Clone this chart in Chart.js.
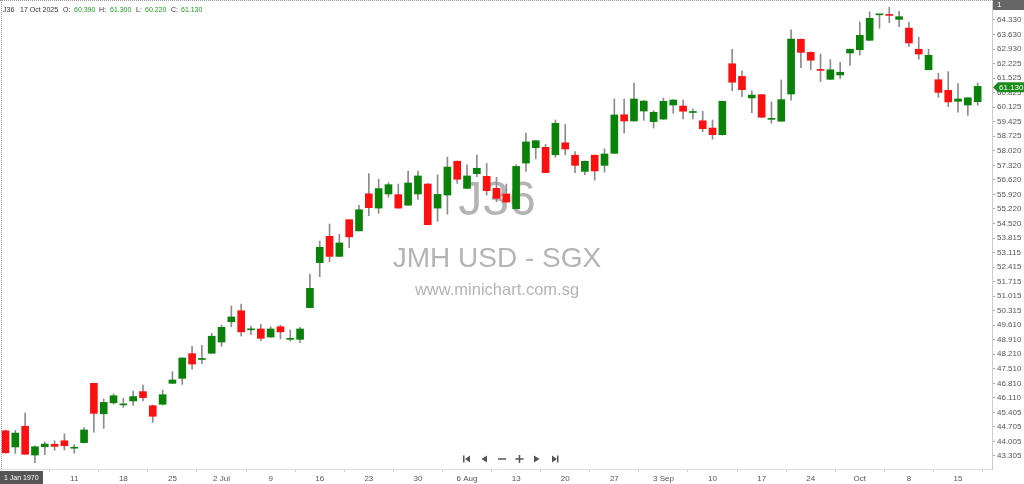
<!DOCTYPE html>
<html>
<head>
<meta charset="utf-8">
<script src="https://cdn.jsdelivr.net/npm/chart.js@4.4.0/dist/chart.umd.min.js"></script>
<style>
  html, body { margin: 0; padding: 0; background: #fff; overflow: hidden; }
  #wrap { width: 1024px; height: 484px; }
</style>
</head>
<body>
<div id="wrap"><canvas id="chart" width="1024" height="484"></canvas></div>
<script>
// daily OHLC, 2 Jun 2025 .. 17 Oct 2025 (one entry per trading day)
const opens = [
  44.52, 43.74, 44.74, 43.35, 43.75, 43.87, 44.04, 43.68, 43.95, 46.81,
  45.34, 45.87, 45.77, 45.96, 46.41, 45.73, 45.80, 46.81, 47.05, 48.24,
  47.96, 48.26, 48.80, 49.78, 50.31, 49.39, 49.43, 49.04, 49.54, 48.93,
  48.93, 50.46, 52.63, 53.90, 52.93, 54.70, 54.16, 55.95, 55.26, 55.94,
  55.91, 55.40, 55.94, 56.42, 55.26, 55.89, 57.52, 56.21, 56.92, 56.79,
  56.21, 55.94, 55.23, 57.43, 58.17, 58.19, 57.83, 58.41, 57.81, 57.03,
  57.81, 57.32, 57.90, 59.76, 59.46, 59.94, 59.43, 59.55, 60.23, 60.18,
  59.87, 59.47, 59.12, 58.80, 62.22, 61.61, 60.57, 60.73, 59.54, 59.45,
  60.76, 63.40, 62.77, 61.92, 61.47, 61.68, 62.74, 62.90, 63.35, 64.58,
  64.56, 64.36, 63.94, 62.92, 61.93, 61.45, 60.94, 60.41, 60.23, 60.39
];
const highs = [
  44.55, 44.54, 45.38, 43.79, 43.99, 44.04, 44.37, 43.85, 44.67, 46.82,
  46.05, 46.30, 46.09, 46.44, 46.73, 45.76, 46.49, 47.37, 48.04, 48.59,
  48.64, 49.22, 49.62, 50.54, 50.63, 49.57, 49.65, 49.54, 49.61, 49.38,
  49.51, 52.08, 53.67, 54.49, 54.00, 54.71, 55.39, 56.92, 56.65, 56.49,
  56.42, 57.05, 57.05, 56.45, 56.86, 57.72, 57.53, 57.34, 57.82, 57.42,
  56.74, 56.42, 57.34, 58.88, 58.52, 58.34, 59.51, 59.30, 57.98, 57.53,
  57.82, 58.12, 60.52, 60.52, 61.29, 60.45, 59.96, 60.57, 60.49, 60.47,
  60.05, 59.93, 59.51, 60.42, 62.92, 61.88, 60.91, 60.74, 60.38, 61.44,
  63.85, 63.41, 62.79, 62.69, 62.42, 62.29, 62.93, 64.23, 64.72, 64.60,
  64.94, 64.75, 64.22, 63.50, 62.92, 61.76, 61.84, 61.26, 60.59, 61.30
];
const lows = [
  43.44, 43.43, 43.38, 42.98, 43.37, 43.58, 43.59, 43.44, 43.94, 44.45,
  44.64, 45.81, 45.65, 45.75, 45.96, 44.93, 45.76, 46.80, 46.76, 47.49,
  47.76, 48.25, 48.59, 49.54, 49.09, 49.15, 48.87, 49.03, 48.95, 48.85,
  48.77, 50.44, 51.95, 52.67, 52.92, 53.35, 54.16, 54.89, 55.01, 55.78,
  55.25, 55.39, 55.68, 54.45, 54.62, 54.97, 56.45, 56.20, 56.77, 55.89,
  55.57, 55.54, 55.22, 57.03, 57.63, 56.96, 57.71, 57.83, 56.97, 56.87,
  56.61, 56.99, 57.89, 58.87, 59.45, 59.49, 59.12, 59.54, 59.83, 59.56,
  59.56, 58.94, 58.58, 58.78, 60.92, 60.63, 59.86, 59.63, 59.35, 59.44,
  60.47, 62.03, 61.93, 61.36, 61.46, 61.50, 62.14, 62.64, 63.34, 63.93,
  64.20, 64.01, 63.06, 62.44, 61.93, 60.60, 60.15, 59.89, 59.73, 60.22
];
const closes = [
  43.46, 44.41, 43.39, 43.75, 43.88, 43.77, 43.80, 43.70, 44.56, 45.36,
  45.89, 46.21, 45.78, 46.17, 46.12, 45.22, 46.26, 46.97, 48.03, 47.74,
  47.99, 49.08, 49.51, 50.01, 49.29, 49.41, 48.98, 49.43, 49.29, 48.95,
  49.43, 51.39, 53.37, 52.93, 53.58, 53.87, 55.18, 55.28, 56.20, 56.39,
  55.26, 56.47, 56.81, 54.46, 55.92, 57.24, 56.65, 56.81, 57.18, 56.10,
  55.73, 55.55, 57.27, 58.45, 58.51, 56.97, 59.35, 58.11, 57.32, 57.52,
  57.05, 57.87, 59.75, 59.46, 60.52, 60.42, 59.88, 60.41, 60.47, 59.93,
  59.88, 59.09, 58.80, 60.41, 61.33, 60.97, 60.71, 59.64, 59.55, 60.49,
  63.41, 62.77, 62.39, 61.90, 61.93, 61.81, 62.92, 63.59, 64.41, 64.59,
  64.55, 64.49, 63.22, 62.69, 62.63, 60.84, 60.38, 60.52, 60.58, 61.13
];

// axis labels
const yTicks = [
  64.330, 63.630, 62.930, 62.225, 61.525, 60.825, 60.125, 59.425, 58.725, 58.020,
  57.320, 56.620, 55.920, 55.220, 54.520, 53.815, 53.115, 52.415, 51.715, 51.015,
  50.315, 49.610, 48.910, 48.210, 47.510, 46.810, 46.110, 45.405, 44.705, 44.005, 43.305
];
const xTickIdx = [7, 12, 17, 22, 27, 32, 37, 42, 47, 52, 57, 62, 67, 72, 77, 82, 87, 92, 97];
const xTickLabels = ["11", "18", "25", "2 Jul", "9", "16", "23", "30", "6 Aug", "13",
  "20", "27", "3 Sep", "10", "17", "24", "Oct", "8", "15"];

const UP = "#0a820a";
const DOWN = "#ff1010";
const FONT = "'Liberation Sans', Arial, sans-serif";

const bodyColors = opens.map((o, i) => (closes[i] >= o ? UP : DOWN));

// watermark, header and the little widgets round the chart
const decorations = {
  id: "decorations",
  beforeDatasetsDraw(chart) {
    const ctx = chart.ctx;
    ctx.save();
    ctx.fillStyle = "#b4b4b4";
    ctx.textAlign = "center";
    ctx.textBaseline = "middle";
    ctx.font = "48px " + FONT;
    ctx.fillText("J36", 497, 202);
    ctx.font = "28px " + FONT;
    ctx.fillText("JMH USD - SGX", 497, 259);
    ctx.font = "16.5px " + FONT;
    ctx.fillText("www.minichart.com.sg", 497, 290);
    ctx.restore();
  },
  afterDraw(chart) {
    const ctx = chart.ctx;
    ctx.save();

    // dotted frame
    ctx.strokeStyle = "#999";
    ctx.lineWidth = 1;
    ctx.setLineDash([1, 1]);
    ctx.beginPath();
    ctx.moveTo(0, 0.5); ctx.lineTo(1024, 0.5);
    ctx.moveTo(1.5, 0); ctx.lineTo(1.5, 469);
    ctx.stroke();
    ctx.setLineDash([]);

    // header
    ctx.font = "7px " + FONT;
    ctx.textBaseline = "middle";
    ctx.textAlign = "left";
    const head = [
      ["J36", 3, "#333"], ["17 Oct 2025", 20, "#333"],
      ["O:", 63, "#333"], ["60.390", 74, "#1f9a1f"],
      ["H:", 99, "#333"], ["61.300", 110, "#1f9a1f"],
      ["L:", 136, "#333"], ["60.220", 145, "#1f9a1f"],
      ["C:", 171, "#333"], ["61.130", 181, "#1f9a1f"]
    ];
    head.forEach(([t, x, c]) => { ctx.fillStyle = c; ctx.fillText(t, x, 10); });

    // top-right pane tag
    ctx.font = "8px " + FONT;
    ctx.fillStyle = "#666";
    ctx.fillRect(993, 0, 31, 10);
    ctx.fillStyle = "#fff";
    ctx.fillText("1", 997, 5);

    // last price tag
    const yLast = chart.scales.y.getPixelForValue(closes[closes.length - 1]) + 1;
    ctx.fillStyle = "#1a8c1a";
    ctx.beginPath();
    ctx.moveTo(993, yLast);
    ctx.lineTo(998, yLast - 5);
    ctx.lineTo(1024, yLast - 5);
    ctx.lineTo(1024, yLast + 5);
    ctx.lineTo(998, yLast + 5);
    ctx.closePath();
    ctx.fill();
    ctx.fillStyle = "#fff";
    ctx.fillText(closes[closes.length - 1].toFixed(3), 999, yLast + 0.5);

    // crosshair date box
    ctx.fillStyle = "#555";
    ctx.fillRect(0, 471, 43, 13);
    ctx.fillStyle = "#fff";
    ctx.font = "7px " + FONT;
    ctx.fillText("1 Jan 1970", 4, 478);

    // scroll / zoom buttons
    const yb = 459;
    ctx.fillStyle = "#555";
    ctx.strokeStyle = "#555";
    ctx.lineWidth = 1.5;
    // |<
    ctx.fillRect(463, yb - 3.5, 1.5, 7);
    ctx.beginPath(); ctx.moveTo(465, yb); ctx.lineTo(470, yb - 3.5); ctx.lineTo(470, yb + 3.5); ctx.fill();
    // <
    ctx.beginPath(); ctx.moveTo(481.5, yb); ctx.lineTo(487, yb - 3.5); ctx.lineTo(487, yb + 3.5); ctx.fill();
    // -
    ctx.beginPath(); ctx.moveTo(498, yb); ctx.lineTo(506, yb); ctx.stroke();
    // +
    ctx.beginPath(); ctx.moveTo(515.5, yb); ctx.lineTo(523.5, yb); ctx.moveTo(519.5, yb - 4); ctx.lineTo(519.5, yb + 4); ctx.stroke();
    // >
    ctx.beginPath(); ctx.moveTo(539.5, yb); ctx.lineTo(534, yb - 3.5); ctx.lineTo(534, yb + 3.5); ctx.fill();
    // >|
    ctx.beginPath(); ctx.moveTo(557, yb); ctx.lineTo(552, yb - 3.5); ctx.lineTo(552, yb + 3.5); ctx.fill();
    ctx.fillRect(557, yb - 3.5, 1.5, 7);

    ctx.restore();
  }
};

new Chart(document.getElementById("chart"), {
  type: "bar",
  data: {
    datasets: [
      {
        label: "body",
        data: opens.map((o, i) => ({ x: i, y: [o, closes[i]] })),
        backgroundColor: bodyColors,
        barThickness: 7,
        minBarLength: 1,
        grouped: false,
        order: 0
      },
      {
        label: "wick",
        data: lows.map((l, i) => ({ x: i, y: [l, highs[i]] })),
        backgroundColor: "#8c8c8c",
        barThickness: 1,
        grouped: false,
        order: 1
      }
    ]
  },
  options: {
    responsive: false,
    animation: false,
    devicePixelRatio: 1,
    layout: { padding: { top: 2, left: 0, right: 0, bottom: 0 } },
    plugins: {
      legend: { display: false },
      tooltip: { enabled: false }
    },
    scales: {
      x: {
        type: "linear",
        min: -0.56,
        max: 100.46,
        offset: false,
        afterBuildTicks: (s) => { s.ticks = xTickIdx.map((v) => ({ value: v })); },
        afterFit: (s) => { s.height = 15; s.paddingLeft = 0; s.paddingRight = 0; },
        ticks: {
          autoSkip: false,
          maxRotation: 0,
          padding: 2,
          color: "#555",
          font: { size: 8, family: FONT },
          callback: (v, i) => xTickLabels[i]
        },
        grid: { drawOnChartArea: false, tickLength: 3, color: "#ccc" },
        border: { color: "#ddd" }
      },
      y: {
        position: "right",
        min: 42.678,
        max: 65.198,
        afterBuildTicks: (s) => { s.ticks = yTicks.map((v) => ({ value: v })); },
        afterFit: (s) => { s.width = 32; s.paddingTop = 0; s.paddingBottom = 0; },
        ticks: {
          padding: 2,
          color: "#555",
          font: { size: 8, family: FONT },
          callback: (v) => Number(v).toFixed(3)
        },
        grid: { drawOnChartArea: false, tickLength: 3, color: "#aaa" },
        border: { color: "#ccc" }
      }
    }
  },
  plugins: [decorations]
});
</script>
</body>
</html>
